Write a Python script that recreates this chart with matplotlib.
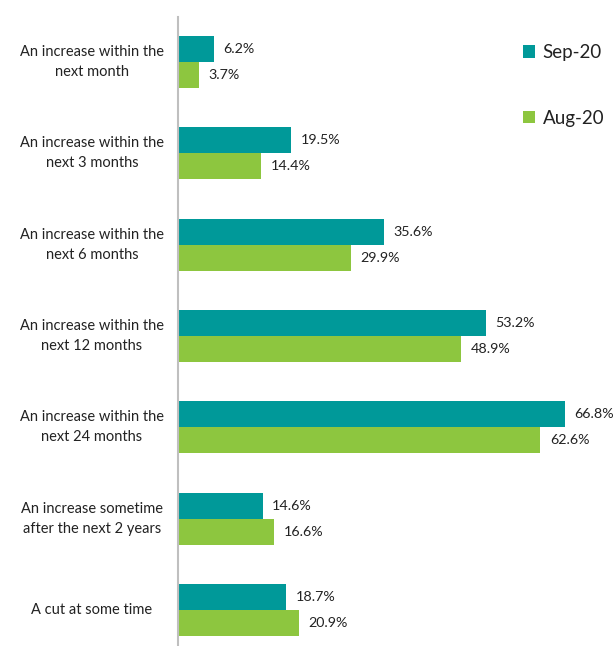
import matplotlib
matplotlib.use("Agg")
import matplotlib.pyplot as plt
import numpy as np

categories = [
    "An increase within the\nnext month",
    "An increase within the\nnext 3 months",
    "An increase within the\nnext 6 months",
    "An increase within the\nnext 12 months",
    "An increase within the\nnext 24 months",
    "An increase sometime\nafter the next 2 years",
    "A cut at some time",
]
sep20 = [6.2, 19.5, 35.6, 53.2, 66.8, 14.6, 18.7]
aug20 = [3.7, 14.4, 29.9, 48.9, 62.6, 16.6, 20.9]
series_names = ["Sep-20", "Aug-20"]

c_sep = "#009999"
c_aug = "#8DC63F"

plt.rcParams['font.family'] = ['Lato', 'DejaVu Sans']

W, H = 614, 646
fig = plt.figure(figsize=(W / 100, H / 100), dpi=100)
ax = fig.add_axes([178 / W, 0, 1 - 178 / W, 1 - 17 / H])

y = np.arange(len(categories))
h = 0.285
b1 = ax.barh(y - h / 2, sep20, height=h, color=c_sep, label=series_names[0])
b2 = ax.barh(y + h / 2, aug20, height=h, color=c_aug, label=series_names[1])

for bars, vals in ((b1, sep20), (b2, aug20)):
    for rect, v in zip(bars, vals):
        ax.annotate(f"{v:.1f}%", (rect.get_width(), rect.get_y() + rect.get_height() / 2),
                    xytext=(6.8, 0), textcoords="offset points", va="center", ha="left",
                    fontsize=10.3, color="#222222", annotation_clip=False)

ax.set_xlim(0, 75.3)
ax.set_ylim(6.394, -0.493)
ax.set_yticks(y)
ax.set_yticklabels(categories, fontsize=10.5, color="#222222", ha="center", va="center",
                   multialignment="center", linespacing=1.55)
ax.tick_params(axis="y", length=0, pad=62)
ax.set_xticks([])
for s in ("top", "right", "bottom"):
    ax.spines[s].set_visible(False)
ax.spines["left"].set_color("#BFBFBF")
ax.spines["left"].set_linewidth(1.5)

leg = fig.legend(handles=[b1, b2], labels=series_names, loc="upper left",
                 bbox_to_anchor=(523 / W, 1 - 44 / H), frameon=False, fontsize=13.5,
                 handlelength=0.65, handleheight=0.65, handletextpad=0.4,
                 labelspacing=2.6, borderaxespad=0, borderpad=0)
for t in leg.get_texts():
    t.set_color("#222222")

fig.savefig("out.png", dpi=100)
